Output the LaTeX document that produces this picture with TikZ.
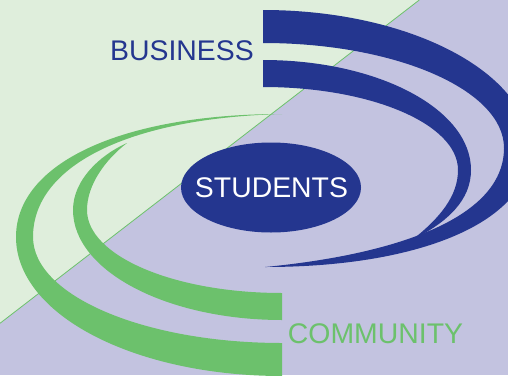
\documentclass[tikz,border=0pt]{standalone}
\usepackage{fontspec}
\setmainfont{Liberation Sans}
\usetikzlibrary{shapes.geometric}
\definecolor{dblue}{RGB}{36,54,143}
\definecolor{lgreen}{RGB}{108,193,108}
\definecolor{bggreen}{RGB}{223,238,220}
\definecolor{bglav}{RGB}{195,195,224}
\tikzset{
  bluearc/.style={fill=dblue, draw=none},
  greenarc/.style={fill=lgreen, draw=none},
  label/.style={inner sep=0pt, anchor=base, font=\fontsize{28.4}{30}\selectfont},
}
\begin{document}
\begin{tikzpicture}[x=1pt,y=-1pt]
\useasboundingbox (0,0) rectangle (508,375);
% background
\fill[bglav] (0,0) rectangle (508,375);
\fill[bggreen] (0,0) -- (419.3,0) -- (0,323.3) -- cycle;
\coordinate (d1) at (0,323.3);
\coordinate (d2) at (419.3,0);
\draw[lgreen, line width=0.8pt] (d1) -- (d2);
% blue outer arc
\fill[bluearc] (263,10) .. controls (410,10) and (530,73) .. (530,150)
  .. controls (530,220) and (424,267) .. (265,267)
  .. controls (390,255) and (504,220) .. (504,148)
  .. controls (504,90) and (396,43) .. (263,43) -- cycle;
% blue inner arc
\fill[bluearc] (263,60) .. controls (378,60) and (471,109) .. (471,170)
  .. controls (471,200) and (448,222) .. (412,240)
  .. controls (440,218) and (458,196) .. (458,170)
  .. controls (458,124) and (371,87) .. (263,87) -- cycle;
% green outer arc
\fill[greenarc] (282,376) .. controls (135,376) and (16,315) .. (16,237)
  .. controls (16,163) and (122,114) .. (282,114)
  .. controls (130,118) and (33,165) .. (33,237)
  .. controls (33,296) and (145,343) .. (282,343) -- cycle;
% green inner arc
\fill[greenarc] (282,320) .. controls (167,320) and (73,271) .. (73,210)
  .. controls (73,180) and (100,155) .. (127,143)
  .. controls (105,160) and (87,185) .. (87,210)
  .. controls (87,256) and (174,293) .. (282,293) -- cycle;
% students
\node[ellipse, fill=dblue, minimum width=180pt, minimum height=90pt, inner sep=0pt] (stud) at (271,187.5) {};
\node[label, text=white] (studtext) at (271.5,197) {STUDENTS};
\node[label, text=dblue] (bus) at (182,60) {BUSINESS};
\node[label, text=lgreen] (com) at (375.5,343) {COMMUNITY};
\end{tikzpicture}
\end{document}
